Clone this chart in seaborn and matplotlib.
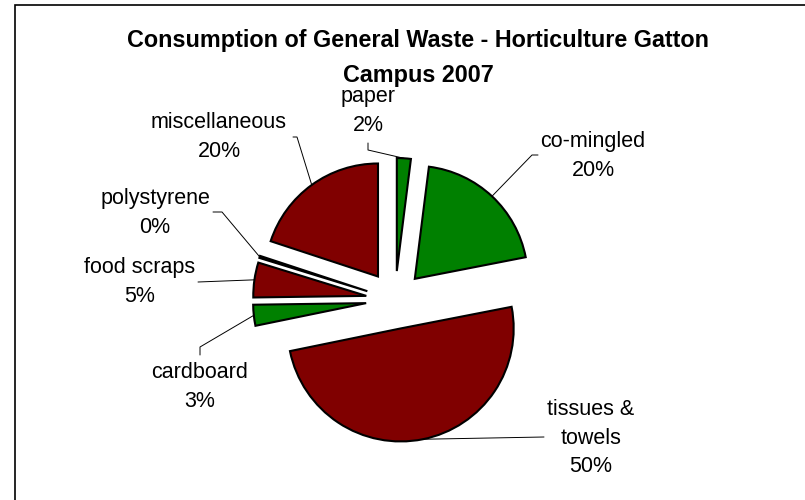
import matplotlib
matplotlib.use("Agg")
import numpy as np
import matplotlib.pyplot as plt
import matplotlib.patches as mpatches
import seaborn as sns

# data, clockwise from 12 o'clock
categories = ["paper", "co-mingled", "tissues &\ntowels", "cardboard",
              "food scraps", "polystyrene", "miscellaneous"]
shares = [2.0, 20.0, 50.0, 3.0, 5.0, 0.3, 20.0]
slice_colors = ["#008000", "#008000", "#800000", "#008000",
                "#800000", "#ffffff", "#800000"]
title_text = "Consumption of General Waste - Horticulture Gatton\nCampus 2007"

# layout (axes units == pixels, y up)
label_pos = [(368, 389), (593, 344), (591, 62), (200, 113),
             (140, 218), (155, 287), (219, 363)]
leader_elbow = [(368, 350), (532, 345), (544, 63), (200, 153),
                (198, 218), (222, 288), (297, 363)]
leader_end = [(368, 357), (538, 345), (544, 63), (200, 145),
              (198, 218), (213, 288), (293, 363)]

sns.set_theme(style="white")
plt.rcParams["font.family"] = ["Liberation Sans", "DejaVu Sans"]
plt.rcParams["text.color"] = "black"


def arc_midpoint(wedge):
    theta = np.deg2rad((wedge.theta1 + wedge.theta2) / 2)
    cx, cy = wedge.center
    return cx + wedge.r * np.cos(theta), cy + wedge.r * np.sin(theta)


def plot_waste_pie():
    fig = plt.figure(figsize=(8.05, 5), dpi=100)
    ax = fig.add_axes([0, 0, 1, 1])

    wedges, _ = ax.pie(
        shares,
        colors=slice_colors,
        startangle=90,
        counterclock=False,
        radius=113,
        center=(395, 200),
        explode=[29] * len(shares),
        wedgeprops=dict(edgecolor="black", linewidth=1.5),
    )
    ax.set_xlim(0, 805)
    ax.set_ylim(0, 500)
    ax.set_aspect("equal")
    ax.axis("off")

    total = sum(shares)
    for i, w in enumerate(wedges):
        ax_, ay_ = arc_midpoint(w)
        ex, ey = leader_elbow[i]
        tx, ty = leader_end[i]
        ax.plot([ax_, ex, tx], [ay_, ey, ty], color="black", lw=0.7)
        ax.text(label_pos[i][0], label_pos[i][1],
                f"{categories[i]}\n{shares[i] / total * 100:.0f}%",
                ha="center", va="center", fontsize=15.5, linespacing=1.45,
                color="black")

    ax.text(418, 442, title_text, ha="center", va="center",
            fontsize=16.8, fontweight="bold", linespacing=1.68, color="black")

    # chart area border
    fig.patches.append(mpatches.Rectangle(
        (15 / 805, -0.1), 1.2, 1.09, transform=fig.transFigure,
        fill=False, edgecolor="black", linewidth=1.2))

    fig.savefig("out.png", dpi=100, facecolor="white")
    plt.close(fig)


if __name__ == "__main__":
    plot_waste_pie()
